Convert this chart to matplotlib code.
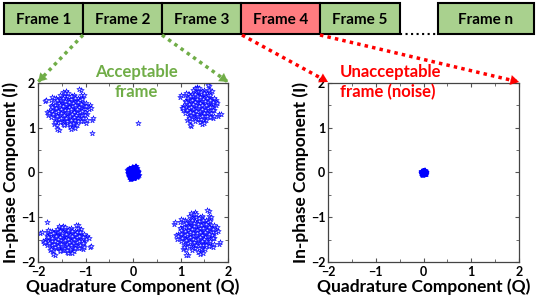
import numpy as np
import matplotlib
matplotlib.use("Agg")
import matplotlib.pyplot as plt
from matplotlib.patches import Rectangle
from matplotlib.ticker import MultipleLocator

plt.rcParams['font.family'] = ['Lato', 'DejaVu Sans']
plt.rcParams['font.weight'] = 'bold'

# frames along the top
frame_labels = ['Frame 1', 'Frame 2', 'Frame 3', 'Frame 4', 'Frame 5', 'Frame n']
frame_ok = [True, True, True, False, True, True]

# constellation clusters (Q, I) for the acceptable frame
center_q = [-1.35, 1.40, -1.42, 1.35]
center_i = [1.40, 1.50, -1.50, -1.35]
spread_q = [0.21, 0.17, 0.22, 0.20]
spread_i = [0.19, 0.19, 0.14, 0.21]
pilot_spread = 0.05         # the tight blob at the origin
noise_spread = 0.02         # blob in the noise frame
outlier_q = [0.10, -0.87, 1.85, -1.82]
outlier_i = [1.10, 0.88, 1.30, -1.10]

# hand-read offsets (in spread units) of the scattered symbols
offsets = [
    (0.1, 0.2), (-0.5, 0.3), (0.8, -0.2), (-1.2, -0.6), (0.3, 1.1), (1.5, 0.4),
    (-0.2, -1.3), (0.6, 0.7), (-0.9, 0.9), (1.1, -1.0), (0.0, -0.4), (-0.3, 0.0),
    (0.4, -0.8), (-1.6, 0.2), (0.9, 1.4), (-0.7, -0.3), (0.2, 0.5), (1.8, -0.5),
    (-0.4, 1.7), (0.5, -1.6), (-1.1, -1.2), (0.7, 0.1), (-0.1, 0.8), (1.3, 0.9),
    (-1.4, 0.6), (0.25, -0.15), (-0.6, -0.9), (1.0, -0.3), (-0.8, 0.4), (0.15, 1.3),
    (-2.0, -0.1), (2.1, 0.6), (0.35, -2.0), (-0.25, 2.2), (1.2, 1.8), (-1.5, -1.7),
    (0.05, -0.05), (-0.45, -0.55), (0.65, -0.45), (-0.95, 0.05), (0.85, 0.55),
    (-0.15, -0.75), (1.45, -1.35), (-1.25, 1.35), (0.45, 0.35), (-0.55, 0.65),
    (0.95, -0.75), (-0.35, -1.65), (1.65, 0.15), (-1.75, -0.85), (0.55, 1.65),
    (-0.05, 0.25), (0.75, -1.15), (-1.05, -0.35), (1.25, 0.25), (-0.65, 1.25),
    (0.15, -1.05), (-1.35, -0.55), (2.3, -1.2), (-2.4, 1.0),
]

GREEN_FILL = '#a9d18e'
RED_FILL = '#ff7c80'
GREEN = '#70ad47'
RED = '#ff0000'
BLUE = '#0000ff'

off = np.array(offsets)
# four quarter-turn copies of the offset pattern
pattern = np.vstack([off, off[:, ::-1] * [-1, 1], -off, off[:, ::-1] * [1, -1]])

fig = plt.figure(figsize=(5.4, 2.97), dpi=100)
W, H = 540, 297


def px_axes(x0, y0, x1, y1):
    return fig.add_axes([x0 / W, 1 - y1 / H, (x1 - x0) / W, (y1 - y0) / H])


def style_axes(ax):
    ax.set_xlim(-2, 2)
    ax.set_ylim(-2, 2)
    ax.xaxis.set_major_locator(MultipleLocator(1))
    ax.yaxis.set_major_locator(MultipleLocator(1))
    ax.xaxis.set_minor_locator(MultipleLocator(0.5))
    ax.yaxis.set_minor_locator(MultipleLocator(0.5))
    ax.tick_params(which='both', direction='in', top=True, right=True,
                   labelsize=9, color='#555555')
    ax.tick_params(axis='x', pad=3)
    ax.tick_params(axis='y', pad=2)
    ax.tick_params(which='major', length=3)
    ax.tick_params(which='minor', length=2)
    for lab in ax.get_xticklabels() + ax.get_yticklabels():
        lab.set_fontweight('bold')
    for s in ax.spines.values():
        s.set_color('#444444')
        s.set_linewidth(0.9)
    ax.set_xlabel('Quadrature Component (Q)', fontsize=12.5, fontweight='bold', labelpad=0)
    ax.set_ylabel('In-phase Component (I)', fontsize=12.5, fontweight='bold', labelpad=1)


star = dict(marker='*', s=16, facecolors='#d0d0ff', edgecolors=BLUE, linewidths=0.45)
blob = dict(marker='*', s=14, color=BLUE, linewidths=0.5)

axL = px_axes(38, 83, 228, 262)
for cq, ci, sq, si in zip(center_q, center_i, spread_q, spread_i):
    axL.scatter(cq + pattern[:, 0] * sq, ci + pattern[:, 1] * si, **star)
axL.scatter(pattern[:, 0] * pilot_spread, pattern[:, 1] * pilot_spread * 1.2, **blob)
axL.scatter(outlier_q, outlier_i, **star)
style_axes(axL)

axR = px_axes(328, 83, 519, 262)
axR.scatter(pattern[:, 0] * noise_spread, pattern[:, 1] * noise_spread, **blob)
style_axes(axR)

# overlay in pixel coordinates for the frame strip and arrows
ov = fig.add_axes([0, 0, 1, 1], zorder=5)
ov.set_xlim(0, W)
ov.set_ylim(H, 0)
ov.axis('off')
ov.patch.set_alpha(0)

frame_x = [4, 83, 162, 241, 320, 438]
frame_w = [79, 79, 79, 79, 80, 96]
top, bottom = 3, 34
for lab, ok, x, w in zip(frame_labels, frame_ok, frame_x, frame_w):
    ov.add_patch(Rectangle((x, top), w, bottom - top, facecolor=GREEN_FILL if ok else RED_FILL,
                           edgecolor='black', linewidth=1.5))
    ov.text(x + w / 2, (top + bottom) / 2 + 1, lab, ha='center', va='center',
            fontsize=11, fontweight='bold')
ov.plot([400, 438], [bottom, bottom], color='black', linestyle=':', linewidth=1.5)


def dotted_arrow(x0, y0, x1, y1, color):
    ov.plot([x0, x1], [y0, y1], color=color, linestyle=(0, (1, 1.2)), linewidth=2.5,
            solid_capstyle='butt')
    d = np.array([x1 - x0, y1 - y0])
    d = d / np.hypot(*d)
    ov.annotate('', xy=(x1, y1), xytext=(x1 - d[0] * 10, y1 - d[1] * 10),
                arrowprops=dict(arrowstyle='-|>,head_length=0.6,head_width=0.35',
                                color=color, linewidth=0.1, shrinkA=0, shrinkB=0))


dotted_arrow(83, 35, 38, 82, GREEN)
dotted_arrow(162, 35, 228, 82, GREEN)
dotted_arrow(242, 35, 328, 82, RED)
dotted_arrow(320, 35, 519, 82, RED)

ov.text(136, 82, 'Acceptable\nframe', ha='center', va='center', color=GREEN,
        fontsize=12, fontweight='bold', linespacing=1.3)
ov.text(340, 82, 'Unacceptable\nframe (noise)', ha='left', va='center', color=RED,
        fontsize=12, fontweight='bold', linespacing=1.3)

fig.savefig('out.png', dpi=100)
